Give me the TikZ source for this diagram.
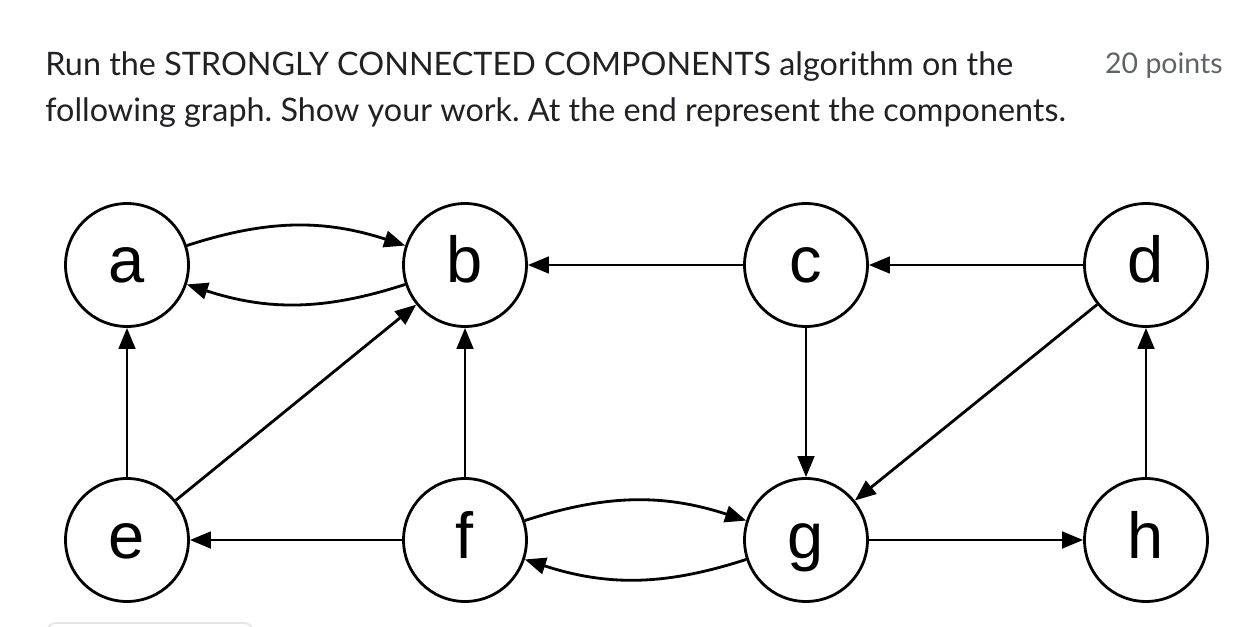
\documentclass[tikz,border=0pt]{standalone}
\usepackage{fontspec}
\setmainfont{Lato}
\newfontfamily\labelfont{Liberation Sans}
\usepackage{xcolor}
\usetikzlibrary{arrows.meta}
\definecolor{qtext}{RGB}{32,33,36}
\definecolor{qgrey}{RGB}{95,99,104}
\frenchspacing

\begin{document}
\begin{tikzpicture}[x=0.02cm, y=0.02cm,
    vertex/.style={draw, circle, line width=1.6pt, minimum size=2.46cm, inner sep=0pt,
        text height=0.9cm, text depth=0.18cm, font=\labelfont\fontsize{37}{40}\selectfont},
    edge/.style={line width=1.6pt, -{Triangle[length=12pt, width=9.5pt]}}]
    % Page
    \useasboundingbox (0,0) rectangle (1240,626);
    % Question text
    \node[anchor=base west, inner sep=0pt, text=qtext, font=\fontsize{18.4}{22}\selectfont] (line1) at (45,550) {Run the STRONGLY CONNECTED COMPONENTS algorithm on the};
    \node[anchor=base west, inner sep=0pt, text=qtext, font=\fontsize{18.4}{22}\selectfont] (line2) at (45,504) {following graph. Show your work. At the end represent the components.};
    \node[anchor=base east, inner sep=0pt, text=qgrey, font=\fontsize{16.2}{18}\selectfont] (points) at (1223,552) {20 points};
    % Vertices
    \node[vertex] (a) at (127,361) {a};
    \node[vertex] (b) at (465,361) {b};
    \node[vertex] (c) at (806,361) {c};
    \node[vertex] (d) at (1146,361) {d};
    \node[vertex] (e) at (127,86) {e};
    \node[vertex] (f) at (465,86) {f};
    \node[vertex] (g) at (806,86) {g};
    \node[vertex] (h) at (1146,86) {h};
    % Edges
    \draw[edge] (a) to[bend left=18] (b);
    \draw[edge] (b) to[bend left=18] (a);
    \draw[edge] (c) -- (b);
    \draw[edge] (d) -- (c);
    \draw[edge] (e) -- (a);
    \draw[edge] (e) -- (b);
    \draw[edge] (f) -- (b);
    \draw[edge] (c) -- (g);
    \draw[edge] (d) -- (g);
    \draw[edge] (f) -- (e);
    \draw[edge] (f) to[bend left=18] (g);
    \draw[edge] (g) to[bend left=18] (f);
    \draw[edge] (g) -- (h);
    \draw[edge] (h) -- (d);
    % Edge of the next box
    \draw[gray!20, line width=1pt, rounded corners=5] (47,-8) -- (47,3) -- (253,3) -- (253,-8);
\end{tikzpicture}
\end{document}
